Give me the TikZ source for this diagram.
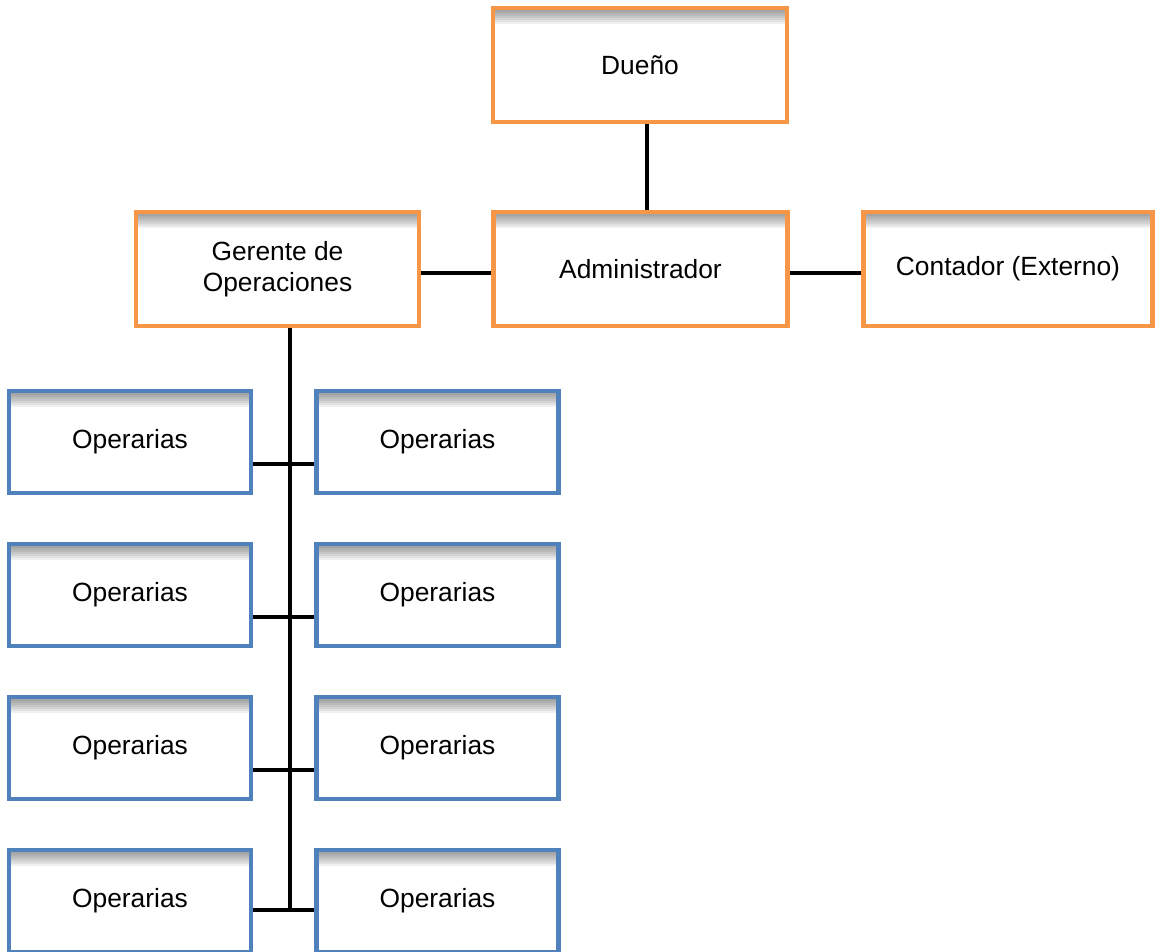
\documentclass[tikz,border=0pt]{standalone}
\usepackage{fontspec}
\setmainfont{Liberation Sans}
\definecolor{boxorange}{HTML}{F79646}
\definecolor{boxblue}{HTML}{4F81BD}
\tikzset{
  box/.style={draw, line width=2.4pt, fill=white, align=center, inner sep=0pt,
    font=\fontsize{15}{17.6}\selectfont,
    path picture={\foreach \k in {1,...,8}
      \fill [black, opacity=0.06] (path picture bounding box.north west)
        rectangle ([yshift=-\k*0.04cm]path picture bounding box.north east);}},
  chief/.style={box, draw=boxorange, minimum width=5.88cm, minimum height=2.28cm},
  worker/.style={box, draw=boxblue, minimum width=4.84cm, minimum height=2.04cm},
  link/.style={black, line width=2.3pt},
}
\begin{document}
\begin{tikzpicture}[x=0.02cm,y=-0.02cm]
\useasboundingbox (0,0) rectangle (1155,951);
%%
  \node [chief] (dueno) at (640,65) {Dueño};
  \node [chief, minimum width=5.66cm] (ger) at (277.5,269) {Gerente de\\Operaciones};
  \node [chief] (admin) at (640.5,269) {Administrador};
  \node [chief, minimum width=5.78cm] (cont) at (1008,269) {Contador (Externo)};
  \node [worker] (op_l1) at (130,442) {Operarias};
  \node [worker] (op_r1) at (437.5,442) {Operarias};
  \node [worker] (op_l2) at (130,595) {Operarias};
  \node [worker] (op_r2) at (437.5,595) {Operarias};
  \node [worker] (op_l3) at (130,748) {Operarias};
  \node [worker] (op_r3) at (437.5,748) {Operarias};
  \node [worker] (op_l4) at (130,901) {Operarias};
  \node [worker] (op_r4) at (437.5,901) {Operarias};
%%
  \coordinate (top_link) at (647,0);
  \coordinate (mid_link) at (0,273);
  \coordinate (trunk) at (290,0);
  \coordinate (trunk_end) at (290,910);
  \coordinate (row_1) at (0,464);
  \coordinate (row_2) at (0,617);
  \coordinate (row_3) at (0,770);
  \coordinate (row_4) at (0,910);
  \draw [link] (dueno.south -| top_link) -- (admin.north -| top_link);
  \draw [link] (ger.east |- mid_link) -- (admin.west |- mid_link);
  \draw [link] (admin.east |- mid_link) -- (cont.west |- mid_link);
  \draw [link] (ger.south -| trunk) -- (trunk_end);
  \draw [link] (op_l1.east |- row_1) -- (op_r1.west |- row_1);
  \draw [link] (op_l2.east |- row_2) -- (op_r2.west |- row_2);
  \draw [link] (op_l3.east |- row_3) -- (op_r3.west |- row_3);
  \draw [link] (op_l4.east |- row_4) -- (op_r4.west |- row_4);
\end{tikzpicture}
\end{document}
